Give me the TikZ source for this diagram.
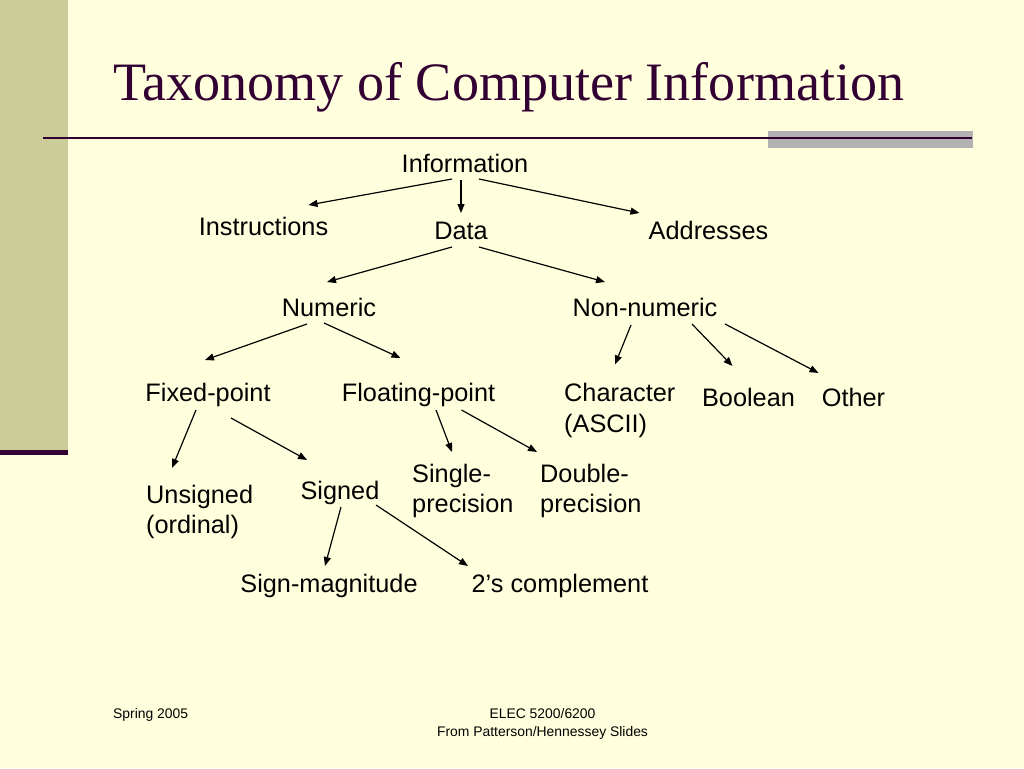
\documentclass[tikz,border=0pt]{standalone}
\usepackage{fontspec}
\setmainfont{Liberation Sans}
\newfontfamily\titlefont{Liberation Serif}
\usepackage{tikz}
\usetikzlibrary{arrows.meta,calc,positioning}
\definecolor{slidebg}{RGB}{255,255,221}
\definecolor{sidebar}{RGB}{204,204,153}
\definecolor{slidepurple}{RGB}{51,0,51}
\definecolor{greybar}{RGB}{178,178,178}

\begin{document}
\begin{tikzpicture}[
		x=1pt, y=-1pt,
		term/.style={inner sep=0pt, anchor=base, font=\fontsize{25.3}{30.7}\selectfont},
		termtwo/.style={term, anchor=base west, align=left},
		foot/.style={inner sep=0pt, anchor=base, font=\fontsize{13.9}{18.4}\selectfont},
		arr/.style={-{Triangle[length=9pt,width=7pt]}, line width=1.2pt},
		]

		% --- fond de la diapositive ---
		\fill[slidebg] (0,0) rectangle (1024,768);
		\useasboundingbox (0,0) rectangle (1024,768);
		\fill[sidebar] (0,0) rectangle (68,450);
		\fill[slidepurple] (0,449.5) rectangle (68,454.5);
		\fill[greybar] (768,131) rectangle (973,148);
		\draw[slidepurple, line width=2.5pt] (43,138) -- (972,138);

		\node[inner sep=0pt, anchor=base west, text=slidepurple, font=\titlefont\fontsize{54.1}{60}\selectfont] (title) at (113,100) {Taxonomy of Computer Information};

		% --- noeuds (base = ligne de base de la derniere ligne) ---
		\node[term] (info) at (465,172) {Information};
		\node[term] (instr) at (263.5,235) {Instructions};
		\node[term] (data) at (461,239) {Data};
		\node[term] (addr) at (708.5,239) {Addresses};
		\node[term] (num) at (329,316) {Numeric};
		\node[term] (nonnum) at (645,316) {Non-numeric};
		\node[term] (fixed) at (208,401) {Fixed-point};
		\node[term] (float) at (418.5,401) {Floating-point};
		\node[termtwo] (chr) at (564,432.2) {Character\\(ASCII)};
		\node[term] (bool) at (748.5,406) {Boolean};
		\node[term] (other) at (853.5,406) {Other};
		\node[termtwo] (unsigned) at (146,533.7) {Unsigned\\(ordinal)};
		\node[term] (signed) at (340,499) {Signed};
		\node[termtwo] (single) at (412,512.7) {Single-\\precision};
		\node[termtwo] (double) at (540,512.7) {Double-\\precision};
		\node[term] (signmag) at (329,592) {Sign-magnitude};
		\node[term] (twos) at (560,592) {2’s complement};

		% --- fleches ---
		\draw[arr] ($(info.base)+(-13,7)$) -- ($(instr.base)+(45,-30)$);
		\draw[arr] ($(info.base)+(-4,8)$) -- ($(data.base)+(0,-26)$);
		\draw[arr] ($(info.base)+(14,7)$) -- ($(addr.base)+(-69,-26)$);
		\draw[arr] ($(data.base)+(-9,8)$) -- ($(num.base)+(-2,-34)$);
		\draw[arr] ($(data.base)+(18,8)$) -- ($(nonnum.base)+(-40,-34)$);
		\draw[arr] ($(num.base)+(-22,8)$) -- ($(fixed.base)+(-3,-41)$);
		\draw[arr] ($(num.base)+(-5,7)$) -- ($(float.base)+(-18,-43)$);
		\draw[arr] ($(nonnum.base)+(-14,9)$) -- ($(chr.base west)+(51,-67.7)$);
		\draw[arr] ($(nonnum.base)+(47,8)$) -- ($(bool.base)+(-16,-40)$);
		\draw[arr] ($(nonnum.base)+(80,8)$) -- ($(other.base)+(-35,-33)$);
		\draw[arr] ($(fixed.base)+(-12,9)$) -- ($(unsigned.base west)+(26,-65.7)$);
		\draw[arr] ($(fixed.base)+(23,17)$) -- ($(signed.base)+(-33,-39)$);
		\draw[arr] ($(float.base)+(17.5,9)$) -- ($(single.base west)+(40,-60.7)$);
		\draw[arr] ($(float.base)+(43,9)$) -- ($(double.base west)+(-3,-60.7)$);
		\draw[arr] ($(signed.base)+(1,8)$) -- ($(signmag.base)+(-4,-26)$);
		\draw[arr] ($(signed.base)+(36,6)$) -- ($(twos.base)+(-92,-26)$);

		% --- pied de page ---
		\node[foot, anchor=base west] (season) at (113,718) {Spring 2005};
		\node[foot, align=center] (course) at (542.5,736.5) {ELEC 5200/6200\\From Patterson/Hennessey Slides};

	\end{tikzpicture}
\end{document}
